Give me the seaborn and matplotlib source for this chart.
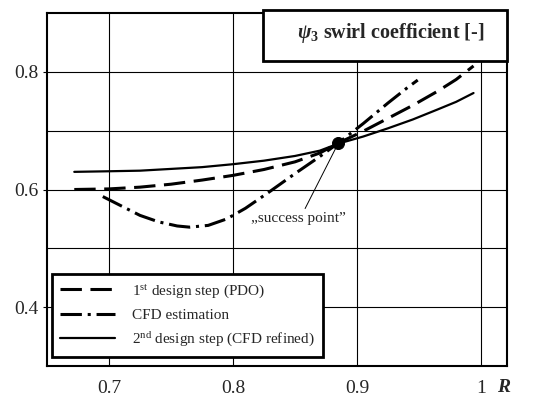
import numpy as np
import pandas as pd
import matplotlib
matplotlib.use("Agg")
import matplotlib.pyplot as plt
import matplotlib.patches as mpatches
import seaborn as sns

# ---- data ----
pdo_x = [0.672, 0.700, 0.725, 0.750, 0.775, 0.800, 0.825, 0.850, 0.870, 0.885, 0.905, 0.925, 0.945, 0.965, 0.980, 0.994]
pdo_y = [0.600, 0.601, 0.604, 0.609, 0.616, 0.624, 0.634, 0.647, 0.662, 0.679, 0.699, 0.721, 0.743, 0.767, 0.787, 0.810]

cfd_x = [0.695, 0.710, 0.725, 0.740, 0.755, 0.765, 0.780, 0.795, 0.810, 0.830, 0.850, 0.870, 0.885, 0.905, 0.925, 0.940, 0.949]
cfd_y = [0.588, 0.572, 0.556, 0.545, 0.538, 0.536, 0.539, 0.550, 0.568, 0.597, 0.627, 0.656, 0.679, 0.712, 0.747, 0.772, 0.786]

ref_x = [0.672, 0.700, 0.725, 0.750, 0.775, 0.800, 0.825, 0.850, 0.870, 0.885, 0.905, 0.925, 0.945, 0.965, 0.980, 0.994]
ref_y = [0.630, 0.631, 0.632, 0.635, 0.638, 0.643, 0.649, 0.657, 0.666, 0.678, 0.690, 0.704, 0.719, 0.736, 0.749, 0.764]

success_x = [0.885]
success_y = [0.679]

labels = [r"1$^{\mathrm{st}}$ design step (PDO)", "CFD estimation",
          r"2$^{\mathrm{nd}}$ design step (CFD refined)"]
x_ticks = [0.7, 0.8, 0.9, 1.0]
x_tick_labels = ["0.7", "0.8", "0.9", "1"]
y_ticks = [0.4, 0.6, 0.8]
y_tick_labels = ["0.4", "0.6", "0.8"]
title_text = r"$\psi_{\mathbf{3}}$ swirl coefficient [-]"
x_label = "R"
note_text = "\u201esuccess point\u201d"

# ---- style ----
sns.set_theme(style="white")
plt.rcParams["font.family"] = ["Liberation Serif", "DejaVu Serif"]
plt.rcParams["mathtext.fontset"] = "custom"
plt.rcParams["mathtext.rm"] = "Liberation Serif"
plt.rcParams["mathtext.it"] = "Liberation Serif:italic:bold"
plt.rcParams["mathtext.bf"] = "Liberation Serif:bold"

fig = plt.figure(figsize=(5.45, 3.96), dpi=100)
ax = fig.add_axes([47/545, 1-366/396, 460/545, 353/396])

lw = 2.2
sns.lineplot(x=pdo_x, y=pdo_y, ax=ax, color="black", lw=lw, label=labels[0],
             linestyle=(0, (7, 2.8)))
sns.lineplot(x=cfd_x, y=cfd_y, ax=ax, color="black", lw=lw, label=labels[1],
             linestyle=(0, (7, 1.9, 1.0, 1.9)))
sns.lineplot(x=ref_x, y=ref_y, ax=ax, color="black", lw=1.6, label=labels[2])
sns.scatterplot(x=success_x, y=success_y, ax=ax, color="black", s=75,
                edgecolor="black", zorder=5, legend=False)

ax.annotate(note_text, xy=(success_x[0], success_y[0]), xytext=(0.853, 0.551),
            ha="center", va="center", fontsize=11,
            arrowprops=dict(arrowstyle="-", lw=0.7, color="black",
                            shrinkA=0, shrinkB=0, relpos=(0.55, 1.0)))

ax.set_xlim(0.65, 1.021)
ax.set_ylim(0.30, 0.90)
ax.set_xticks(x_ticks)
ax.set_xticklabels(x_tick_labels)
ax.set_yticks(y_ticks)
ax.set_yticklabels(y_tick_labels)
ax.set_yticks([0.5, 0.7], minor=True)
ax.grid(True, which="both", color="black", lw=0.8)
ax.tick_params(axis="both", which="major", labelsize=14, length=3, width=0.8,
               color="black", direction="out", left=True, bottom=False)
ax.tick_params(axis="x", pad=7)
ax.tick_params(axis="y", pad=3)
ax.tick_params(axis="both", which="minor", length=0)
for s in ax.spines.values():
    s.set_color("black")
    s.set_linewidth(1.5)
ax.set_xlabel("")
ax.set_ylabel("")

fig.text(504/545, 1-388/396, x_label, ha="center", va="center", fontsize=14,
         fontweight="bold", fontstyle="italic")

leg = ax.legend(loc="lower left", bbox_to_anchor=(52/545, 1-357/396),
                bbox_transform=fig.transFigure, fontsize=11, frameon=True,
                fancybox=False, handlelength=3.6, handletextpad=1.1,
                borderpad=0.55, labelspacing=0.55, borderaxespad=0)
leg.get_frame().set_edgecolor("black")
leg.get_frame().set_linewidth(2.0)
leg.get_frame().set_alpha(1)

# title box
rect = mpatches.Rectangle((263/545, 1-61/396), 244/545, 51/396,
                          transform=fig.transFigure, facecolor="white",
                          edgecolor="black", lw=2.0, zorder=10, clip_on=False)
fig.add_artist(rect)
fig.text(391/545, 1-33/396, title_text, ha="center", va="center",
         fontsize=14.5, fontweight="bold", zorder=11)

fig.savefig("out.png", dpi=100)
